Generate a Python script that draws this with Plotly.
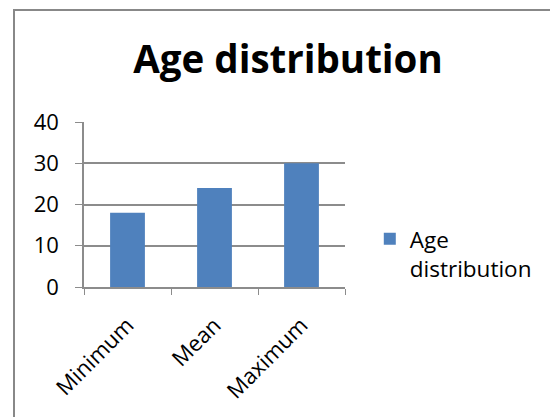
import plotly.graph_objects as go

categories = ["Minimum", "Mean", "Maximum"]
values = [18, 24, 30]
series_name = "Age distribution"
y_ticks = [0, 10, 20, 30, 40]

FONT = "Open Sans"
GRID = "#8c8c8c"

fig = go.Figure()
fig.add_trace(go.Bar(
    x=categories, y=values, name="Age<br>distribution",
    marker=dict(color="#4F81BD", line=dict(width=0)),
    showlegend=True,
))

fig.update_layout(
    width=550, height=417,
    margin=dict(l=84, r=205, t=122, b=130, autoexpand=False),
    paper_bgcolor="white", plot_bgcolor="white",
    bargap=0.6,
    font=dict(family=FONT, color="black"),
    title=dict(text="<b>Age distribution</b>", x=288/550, xanchor="center",
               xref="container", y=1-60/417, yref="container", yanchor="middle",
               font=dict(family=FONT, size=38.5, color="black")),
    showlegend=True,
    legend=dict(x=1.095, xanchor="left", y=0.42, yanchor="top",
                font=dict(family=FONT, size=22.5, color="black"),
                valign="top", itemwidth=30, bgcolor="rgba(0,0,0,0)"),
    xaxis=dict(
        type="category", tickson="boundaries", ticks="outside", ticklen=6,
        tickcolor=GRID, showline=True, linecolor=GRID, linewidth=1.5,
        tickangle=-45, tickfont=dict(family=FONT, size=22, color="black"),
        showgrid=False, range=[-0.5, 2.5], automargin=False,
        ticklabelstandoff=15,
    ),
    yaxis=dict(
        range=[0, 40], tickvals=y_ticks, ticks="outside", ticklen=7,
        tickcolor=GRID, showline=True, linecolor=GRID, linewidth=1.5,
        showgrid=True, gridcolor=GRID, gridwidth=1.5, zeroline=False,
        tickfont=dict(family=FONT, size=22, color="black"),
        ticklabelstandoff=12, automargin=False,
    ),
    shapes=[dict(type="rect", xref="paper", yref="paper",
                 x0=(14-84)/261, x1=2.5, y0=-2, y1=(287-10)/165,
                 line=dict(color="#888888", width=2), layer="below")],
)

fig.write_html("out.html", config={"displayModeBar": False},
               post_script="document.body.style.margin='0';document.body.style.overflow='hidden';")
